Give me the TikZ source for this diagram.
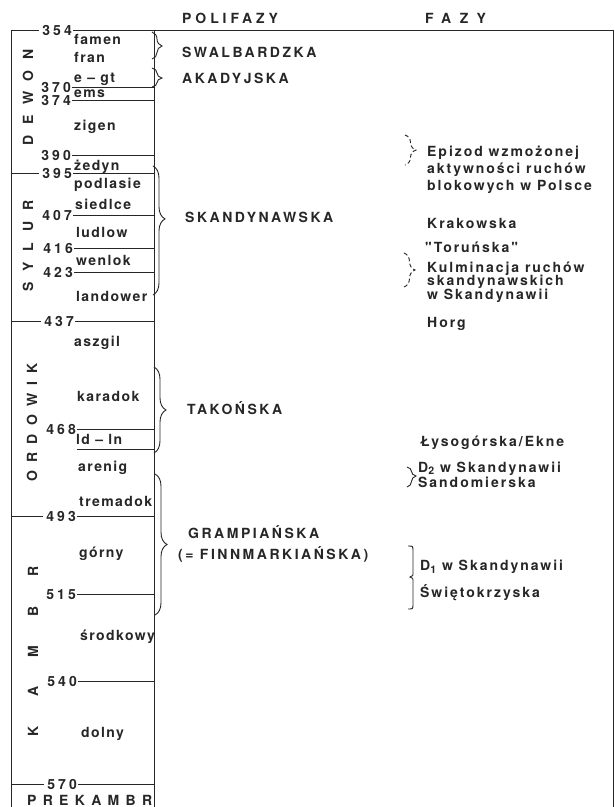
\documentclass[tikz,border=0pt]{standalone}
\usepackage{fontspec}
\setmainfont{TeX Gyre Heros}
\usetikzlibrary{decorations.pathreplacing}
\newfontfamily\fcol[LetterSpace=10]{TeX Gyre Heros}
\newfontfamily\fnum[LetterSpace=22]{TeX Gyre Heros}
\newfontfamily\fpol[LetterSpace=18]{TeX Gyre Heros}
\newfontfamily\ffaz[LetterSpace=14]{TeX Gyre Heros}
\definecolor{ink}{gray}{0.15}
\begin{document}
\begin{tikzpicture}[x=1pt,y=-1pt,
  num/.style={font=\fnum\bfseries\fontsize{14}{14}\selectfont, anchor=base east, inner sep=0pt, text=ink},
  lab/.style={font=\fcol\bfseries\fontsize{14}{14}\selectfont, anchor=base west, inner sep=0pt, text=ink},
  pol/.style={font=\fpol\bfseries\fontsize{14}{14}\selectfont, anchor=base west, inner sep=0pt, text=ink},
  faz/.style={font=\ffaz\bfseries\fontsize{14}{14}\selectfont, anchor=base west, inner sep=0pt, text=ink},
  era/.style={rotate=90, inner sep=0pt, text=ink},
  rule/.style={draw=ink, line width=0.9pt},
  frame/.style={draw=ink, line width=1pt},
  brc/.style={draw=ink, line width=0.9pt, decorate},
]
\useasboundingbox (0,0) rectangle (615,807);

% frame corners
\coordinate (tl) at (11,30);
\coordinate (bl) at (11,807);
\coordinate (tr) at (613,30);
\coordinate (br) at (613,807);
\coordinate (ct) at (154,30);
\coordinate (cb) at (154,807);
\draw[frame] (tl) -- (bl);
\draw[frame] (tr) -- (br);
\draw[frame] (ct) -- (cb);

% numbers
\node[num] (n354) at (72,35) {354};
\node[num] (n370) at (71,92) {370};
\node[num] (n374) at (71,105) {374};
\node[num] (n390) at (71,160) {390};
\node[num] (n395) at (72,178) {395};
\node[num] (n407) at (72,220) {407};
\node[num] (n416) at (73,253) {416};
\node[num] (n423) at (73,277) {423};
\node[num] (n437) at (74,326) {437};
\node[num] (n468) at (76,434) {468};
\node[num] (n493) at (76,521) {493};
\node[num] (n515) at (76,599) {515};
\node[num] (n540) at (77,686) {540};
\node[num] (n570) at (77,789) {570};

% boundary coordinates on column line
\coordinate (c370) at (154,87);
\coordinate (c374) at (154,100);
\coordinate (c390) at (154,155);
\coordinate (c395) at (154,173);
\coordinate (c407) at (154,215);
\coordinate (c416) at (154,248);
\coordinate (c423) at (154,272);
\coordinate (c437) at (154,321);
\coordinate (c468) at (154,429);
\coordinate (cld) at (154,449);
\coordinate (c493) at (154,516);
\coordinate (c515) at (154,594);
\coordinate (c540) at (154,681);
\coordinate (c570) at (154,784);

% top line
\draw[frame] (tl) -- ([xshift=-3pt]n354.west |- tl);
\draw[frame] ([xshift=1pt]n354.east |- tr) -- (tr);
% inner lines
\foreach \n in {370,374,390,407,416,423,468,515,540}{
  \draw[rule] ([xshift=1pt]n\n.east |- c\n) -- (c\n);
}
\draw[rule] ([xshift=1pt]n468.east |- cld) -- (cld);
% era boundaries
\foreach \n in {395,437,493,570}{
  \draw[rule] (11,0 |- c\n) -- ([xshift=-3pt]n\n.west |- c\n);
  \draw[rule] ([xshift=1pt]n\n.east |- c\n) -- (c\n);
}

% stage labels
\node[lab] (famen) at (74,44) {famen};
\node[lab] (fran) at (74,62) {fran};
\node[lab] (egt) at (74,82) {e – gt};
\node[lab] (ems) at (74,97) {ems};
\node[lab] (zigen) at (74,130) {zigen};
\node[lab] (zedyn) at (74,170) {żedyn};
\node[lab] (podlasie) at (74,188) {podlasie};
\node[lab] (siedlce) at (75,209) {siedlce};
\node[lab] (ludlow) at (76,237) {ludlow};
\node[lab] (wenlok) at (76,265) {wenlok};
\node[lab] (landower) at (76,301) {landower};
\node[lab] (aszgil) at (74,346) {aszgil};
\node[lab] (karadok) at (77,401) {karadok};
\node[lab] (ldln) at (76,444) {ld – ln};
\node[lab] (arenig) at (78,471) {arenig};
\node[lab] (tremadok) at (79,506) {tremadok};
\node[lab] (gorny) at (79,557) {górny};
\node[lab] (srodkowy) at (80,640) {środkowy};
\node[lab] (dolny) at (81,737) {dolny};
\node[lab, font=\fcol\bfseries\fontsize{14}{14}\selectfont\addfontfeature{LetterSpace=45}] (prek) at (27,805) {PREKAMBR};

% era names
\node[era, font=\bfseries\fontsize{14}{14}\selectfont\addfontfeature{LetterSpace=75}] (dewon) at (28,97.5) {DEWON};
\node[era, font=\bfseries\fontsize{14}{14}\selectfont\addfontfeature{LetterSpace=79}] (sylur) at (28,246) {SYLUR};
\node[era, font=\bfseries\fontsize{14}{14}\selectfont\addfontfeature{LetterSpace=59}] (ordowik) at (32,422.5) {ORDOWIK};
\node[era, font=\bfseries\fontsize{14}{14}\selectfont\addfontfeature{LetterSpace=211}] (kambr) at (33,651.5) {KAMBR};

% headers
\node[pol, font=\fpol\bfseries\fontsize{14}{14}\selectfont\addfontfeature{LetterSpace=28}] (hpol) at (182,23) {POLIFAZY};
\node[pol, font=\fpol\bfseries\fontsize{14}{14}\selectfont\addfontfeature{LetterSpace=60}] (hfaz) at (425,23) {FAZY};

% polyphases
\node[pol] (swal) at (182,57) {SWALBARDZKA};
\node[pol] (akad) at (182,83) {AKADYJSKA};
\node[pol] (skand) at (185,222) {SKANDYNAWSKA};
\node[pol] (takon) at (187,414) {TAKOŃSKA};
\node[pol] (gramp) at (188,538) {GRAMPIAŃSKA};
\node[pol] (finn) at (178,559) {(= FINNMARKIAŃSKA)};

% polyphase braces
\draw[brc, decoration={brace, amplitude=10pt, aspect=0.52}] (152,32) -- (152,59);
\draw[brc, decoration={brace, amplitude=10pt, aspect=0.53}] (152,68) -- (152,87);
\draw[brc, decoration={brace, amplitude=12pt, aspect=0.41}] (153,166) -- (153,295);
\draw[brc, decoration={brace, amplitude=12pt, aspect=0.5}] (154,367) -- (154,453);
\draw[brc, decoration={brace, amplitude=12pt, aspect=0.5}] (155,474) -- (155,615);

% phases
\node[faz] (epi1) at (427,156) {Epizod wzmożonej};
\node[faz] (epi2) at (427,173) {aktywności ruchów};
\node[faz] (epi3) at (427,190) {blokowych w Polsce};
\node[faz] (krak) at (427,228) {Krakowska};
\node[faz] (torun) at (425,252) {"Toruńska"};
\node[faz] (kul1) at (427,272) {Kulminacja ruchów};
\node[faz] (kul2) at (427,285) {skandynawskich};
\node[faz] (kul3) at (427,299) {w Skandynawii};
\node[faz] (horg) at (427,327) {Horg};
\node[faz] (lyso) at (420,446) {Łysogórska/Ekne};
\node[faz] (d2) at (418,472) {D{\fontsize{10.5}{10}\selectfont\raisebox{-2pt}{2}} w Skandynawii};
\node[faz] (sand) at (418,487) {Sandomierska};
\node[faz] (d1) at (420,570) {D{\fontsize{10.5}{10}\selectfont\raisebox{-3pt}{1}} w Skandynawii};
\node[faz] (swiet) at (420,597) {Świętokrzyska};

% phase braces
\draw[brc, dashed, dash pattern=on 4pt off 2.5pt, decoration={brace, amplitude=11pt, aspect=0.5}] (405,135) -- (405,165);
\draw[brc, dashed, dash pattern=on 4pt off 2.5pt, decoration={brace, amplitude=11pt, aspect=0.5}] (404,253) -- (404,287);
\draw[brc, decoration={brace, amplitude=9pt, aspect=0.45}] (407,467) -- (407,487);
\draw[draw=ink, line width=0.9pt] (408,546) .. controls (413,546) .. (413,551) -- (413,572)
  .. controls (413,576) .. (410,577) .. controls (413,578) .. (413,582) -- (413,604)
  .. controls (413,609) .. (408,609);
\end{tikzpicture}
\end{document}
